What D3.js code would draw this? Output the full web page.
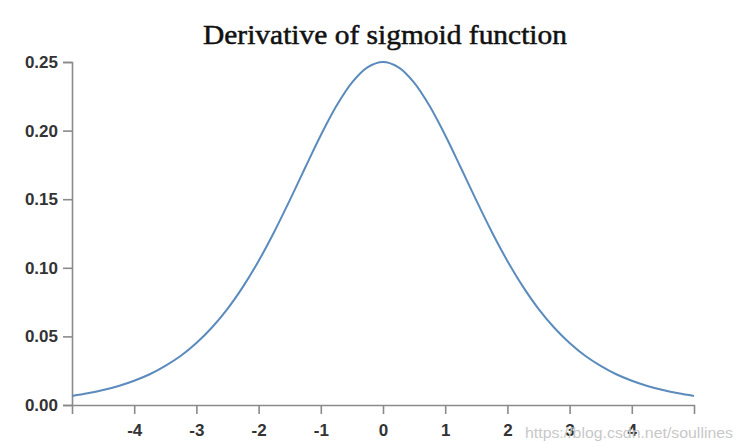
<!DOCTYPE html>
<html><head><meta charset="utf-8">
<script src="https://cdn.jsdelivr.net/npm/d3@7"></script>
<style>body{margin:0;background:#fff}svg{display:block}</style>
</head><body>
<svg id="c" width="742" height="442"></svg>
<script>
const titleText = "Derivative of sigmoid function";
const watermark = "https://blog.csdn.net/soullines";
const xs = [-5,-4.75,-4.5,-4.25,-4,-3.75,-3.5,-3.25,-3,-2.75,-2.5,-2.25,-2,-1.75,-1.5,-1.25,-1,-0.75,-0.5,-0.25,0,
  0.25,0.5,0.75,1,1.25,1.5,1.75,2,2.25,2.5,2.75,3,3.25,3.5,3.75,4,4.25,4.5,4.75,5];
const ys = [0.0066,0.0085,0.0109,0.0139,0.0177,0.0224,0.0285,0.0359,0.0452,0.0565,0.0701,0.0863,0.1050,0.1261,0.1491,0.1731,0.1966,0.2179,0.2350,0.2461,0.25,
  0.2461,0.2350,0.2179,0.1966,0.1731,0.1491,0.1261,0.1050,0.0863,0.0701,0.0565,0.0452,0.0359,0.0285,0.0224,0.0177,0.0139,0.0109,0.0085,0.0066];
const xTicks = [-4,-3,-2,-1,0,1,2,3,4];
const xTickLabels = ["-4","-3","-2","-1","0","1","2","3","4"];
const yTicks = [0,0.05,0.10,0.15,0.20,0.25];
const yTickLabels = ["0.00","0.05","0.10","0.15","0.20","0.25"];

const svg = d3.select("#c");
const m = {l:72, r:48, t:62, b:37};
const W = 742, H = 442;
const x = d3.scaleLinear().domain([-5,5]).range([m.l, W-m.r]);
const y = d3.scaleLinear().domain([0,0.25]).range([H-m.b, m.t]);

const fontSans = "'Liberation Sans', Arial, Helvetica, sans-serif";

const gx = svg.append("g").attr("transform",`translate(0,${H-m.b})`)
  .call(d3.axisBottom(x).tickValues(xTicks).tickFormat((d,i)=>xTickLabels[i]).tickSizeInner(9).tickSizeOuter(9).tickPadding(10));
const gy = svg.append("g").attr("transform",`translate(${m.l},0)`)
  .call(d3.axisLeft(y).tickValues(yTicks).tickFormat((d,i)=>yTickLabels[i]).tickSizeInner(9).tickSizeOuter(9).tickPadding(5));
[gx,gy].forEach(g=>{
  g.selectAll("path,line").attr("stroke","#8a8a8a").attr("stroke-width",1.6);
  g.selectAll("text").attr("font-family",fontSans).attr("font-size",17).attr("font-weight","bold").attr("fill","#333");
});

svg.append("path").datum(xs.map((d,i)=>[d,ys[i]]))
  .attr("fill","none").attr("stroke","#5b8bbd").attr("stroke-width",2)
  .attr("d", d3.line().x(d=>x(d[0])).y(d=>y(d[1])).curve(d3.curveCatmullRom));

svg.append("text").attr("x",385).attr("y",44).attr("text-anchor","middle")
  .attr("font-family","'Liberation Serif','Times New Roman',serif").attr("font-size",27)
  .attr("fill","#111").attr("stroke","#111").attr("stroke-width",0.5)
  .attr("textLength",364).attr("lengthAdjust","spacingAndGlyphs").text(titleText);

svg.append("text").attr("x",525).attr("y",438)
  .attr("font-family",fontSans).attr("font-size",15).attr("fill","#c8c8c8")
  .attr("textLength",208).attr("lengthAdjust","spacingAndGlyphs").text(watermark);
</script>
</body></html>
